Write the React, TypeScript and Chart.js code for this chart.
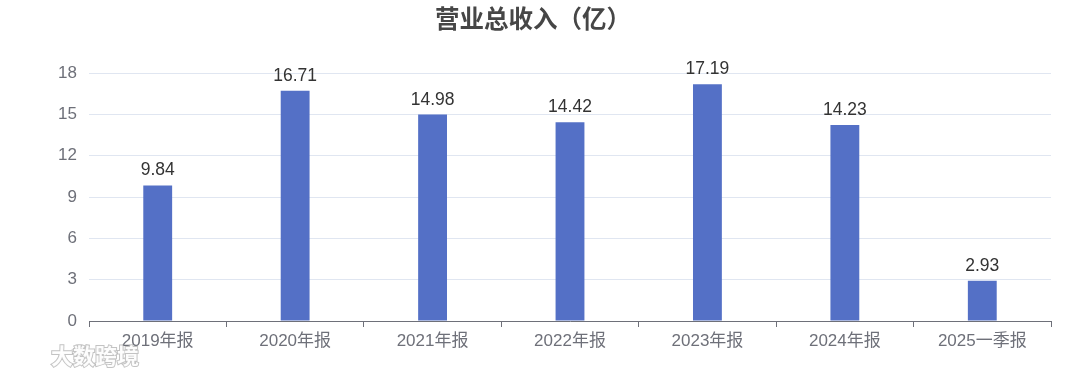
import React, { useEffect, useRef } from "react";
import { Chart, registerables } from "chart.js";

Chart.register(...registerables);

const categories = ["2019年报", "2020年报", "2021年报", "2022年报", "2023年报", "2024年报", "2025一季报"];
const revenue = [9.84, 16.71, 14.98, 14.42, 17.19, 14.23, 2.93];
const yTicks = [0, 3, 6, 9, 12, 15, 18];
const titleText = "营业总收入（亿）";
const watermarkText = "大数跨境";

const FONT = "'Liberation Sans', 'Noto Sans CJK SC', sans-serif";

const valueLabels = {
  id: "valueLabels",
  afterDatasetsDraw(chart: any) {
    const { ctx } = chart;
    const meta = chart.getDatasetMeta(0);
    ctx.save();
    ctx.font = `17.5px ${FONT}`;
    ctx.fillStyle = "#333333";
    ctx.textAlign = "center";
    ctx.textBaseline = "alphabetic";
    meta.data.forEach((bar: any, i: number) => {
      ctx.fillText(revenue[i].toFixed(2), bar.x, bar.y - 10);
    });
    ctx.restore();
  },
};

const titleDraw = {
  id: "titleDraw",
  afterDraw(chart: any) {
    const { ctx } = chart;
    ctx.save();
    ctx.font = `bold 24.5px ${FONT}`;
    ctx.fillStyle = "#464646";
    ctx.textAlign = "center";
    ctx.textBaseline = "middle";
    ctx.fillText(titleText, 533, 21);
    ctx.restore();
  },
};

const watermark = {
  id: "watermark",
  afterDraw(chart: any) {
    const { ctx } = chart;
    ctx.save();
    ctx.font = `bold 22px 'Noto Sans CJK SC', sans-serif`;
    ctx.textAlign = "left";
    ctx.textBaseline = "middle";
    ctx.lineWidth = 2;
    ctx.strokeStyle = "rgba(170,170,170,0.7)";
    ctx.fillStyle = "rgba(255,255,255,0.95)";
    ctx.strokeText(watermarkText, 51, 356);
    ctx.fillText(watermarkText, 51, 356);
    ctx.restore();
  },
};

export default function App() {
  const ref = useRef<HTMLCanvasElement>(null);
  useEffect(() => {
    document.body.style.margin = "0";
    if (!ref.current) return;
    const chart = new Chart(ref.current, {
      type: "bar",
      data: {
        labels: categories,
        datasets: [
          {
            data: revenue,
            backgroundColor: "#5470c6",
            barPercentage: 0.21,
            categoryPercentage: 1,
          },
        ],
      },
      options: {
        animation: false,
        responsive: false,
        maintainAspectRatio: false,
        layout: { padding: { left: 0, right: 29, top: 73, bottom: 28 } },
        plugins: {
          legend: { display: false },
          tooltip: { enabled: false },
          title: { display: false },
        },
        scales: {
          x: {
            grid: {
              display: true,
              drawOnChartArea: false,
              drawTicks: true,
              tickLength: 6,
              color: "#6e7079",
              offset: true,
            },
            border: { display: true, color: "#6e7079", width: 1 },
            ticks: {
              color: "#6e7079",
              font: { size: 17, family: FONT },
              padding: 4,
              maxRotation: 0,
              autoSkip: false,
            },
            afterFit(scale: any) {
              scale.height = 30;
            },
          },
          y: {
            min: 0,
            max: 18,
            afterBuildTicks(scale: any) {
              scale.ticks = yTicks.map((v) => ({ value: v }));
            },
            grid: { color: "#e0e6f1", drawTicks: false },
            border: { display: false },
            ticks: {
              color: "#6e7079",
              font: { size: 17, family: FONT },
              padding: 12,
            },
            afterFit(scale: any) {
              scale.width = 89;
            },
          },
        },
      },
      plugins: [valueLabels, titleDraw, watermark],
    });
    return () => chart.destroy();
  }, []);
  return (
    <div style={{ width: 1080, height: 379 }}>
      <canvas ref={ref} width={1080} height={379} style={{ display: "block" }} />
    </div>
  );
}
